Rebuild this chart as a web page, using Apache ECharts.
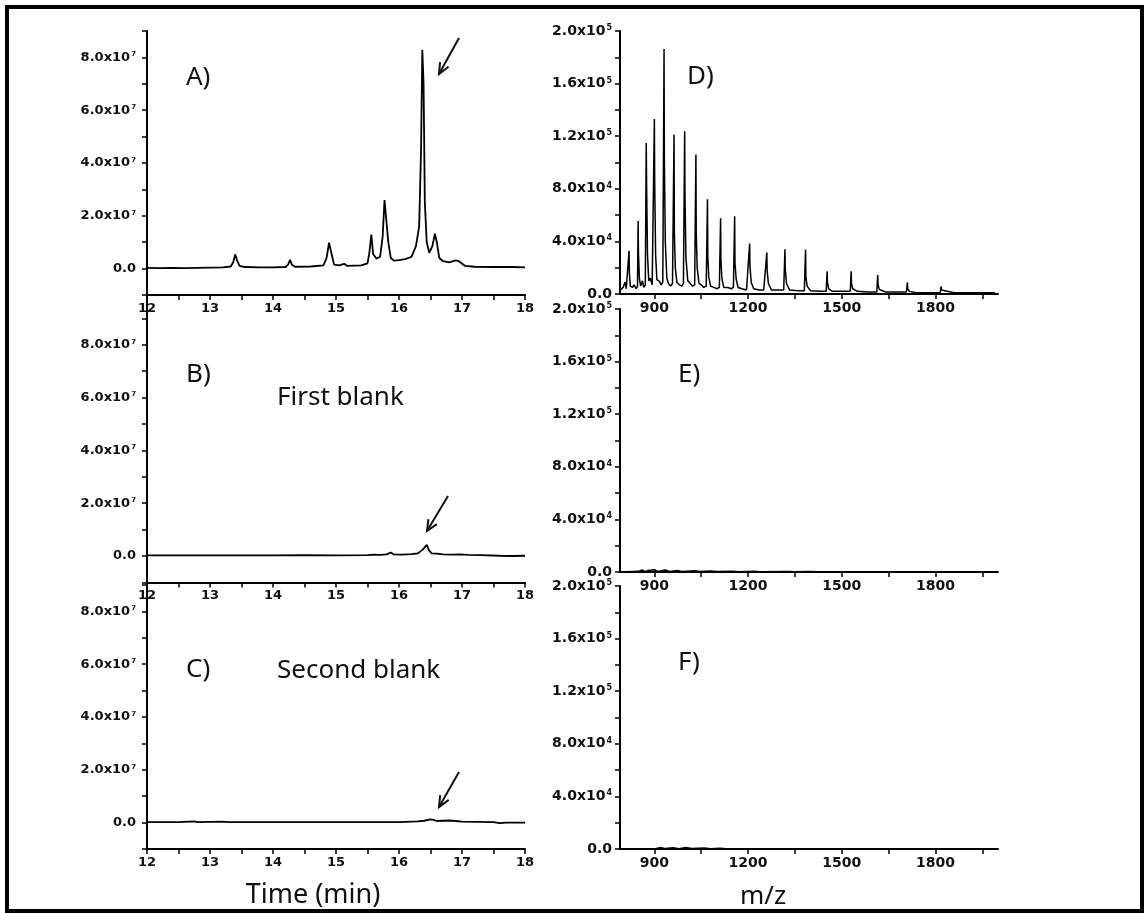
<!DOCTYPE html>
<html>
<head>
<meta charset="utf-8">
<script src="https://cdn.jsdelivr.net/npm/echarts@6/dist/echarts.min.js"></script>
<style>
  html, body { margin: 0; padding: 0; background: #fff; }
  #chart { width: 1147px; height: 913px; }
</style>
</head>
<body>
<div id="chart"></div>
<script>
// chromatograms, intensity in units of 1e7
const aTime = [12.00, 12.20, 12.40, 12.60, 12.80, 13.00, 13.20, 13.33, 13.37, 13.40, 13.43, 13.47, 13.55, 13.80, 14.00, 14.20, 14.24, 14.27, 14.30, 14.35, 14.60, 14.80, 14.85, 14.89, 14.93, 14.97, 15.05, 15.13, 15.18, 15.40, 15.50, 15.53, 15.56, 15.59, 15.64, 15.70, 15.74, 15.77, 15.80, 15.83, 15.87, 15.92, 16.00, 16.10, 16.20, 16.27, 16.32, 16.35, 16.37, 16.39, 16.41, 16.44, 16.48, 16.53, 16.57, 16.60, 16.64, 16.70, 16.80, 16.90, 16.95, 17.05, 17.20, 17.50, 17.80, 18.00]
const aInt = [0.03, 0.02, 0.03, 0.02, 0.03, 0.04, 0.05, 0.08, 0.25, 0.54, 0.30, 0.10, 0.06, 0.05, 0.05, 0.06, 0.15, 0.33, 0.15, 0.07, 0.08, 0.12, 0.40, 0.98, 0.55, 0.15, 0.12, 0.18, 0.10, 0.12, 0.20, 0.60, 1.29, 0.55, 0.38, 0.45, 1.20, 2.60, 2.66, 1.00, 0.40, 0.30, 0.32, 0.36, 0.45, 0.86, 1.60, 4.50, 8.29, 7.00, 2.50, 1.00, 0.60, 0.85, 1.32, 1.00, 0.40, 0.28, 0.24, 0.31, 0.28, 0.10, 0.07, 0.06, 0.06, 0.05]

const bTime = [12.0, 13.0, 14.0, 14.5, 15.0, 15.5, 15.6, 15.7, 15.8, 15.87, 15.92, 16.05, 16.2, 16.3, 16.38, 16.44, 16.48, 16.52, 16.6, 16.7, 16.85, 16.95, 17.1, 17.3, 17.6, 17.8, 18.0]
const bInt = [0.02, 0.02, 0.02, 0.03, 0.02, 0.03, 0.05, 0.04, 0.06, 0.13, 0.06, 0.05, 0.07, 0.10, 0.25, 0.42, 0.20, 0.10, 0.09, 0.06, 0.05, 0.06, 0.04, 0.03, 0.01, 0.00, 0.01]

const cTime = [12.0, 12.5, 12.75, 12.8, 13.2, 13.3, 14.0, 15.0, 16.0, 16.2, 16.3, 16.4, 16.5, 16.55, 16.6, 16.7, 16.8, 16.9, 17.0, 17.5, 17.6, 17.7, 18.0]
const cInt = [0.02, 0.02, 0.05, 0.02, 0.04, 0.02, 0.02, 0.02, 0.02, 0.04, 0.05, 0.07, 0.12, 0.10, 0.06, 0.07, 0.08, 0.06, 0.04, 0.02, -0.02, 0.00, 0.00]

// mass spectra, intensity in units of 1e5
const dMz = [790, 800, 806, 810, 816, 819, 820, 823, 830, 835, 842, 846, 848, 849, 852,
  856, 862, 866, 871, 874, 875, 878, 882, 887, 893, 897, 900, 901, 904,
  908, 915, 922, 927, 931, 932, 935, 940, 945, 952, 958, 963, 964, 967,
  972, 980, 988, 993, 997, 998, 1001, 1007, 1015, 1022, 1029, 1033, 1034, 1037,
  1043, 1050, 1058, 1066, 1070, 1071, 1074, 1080, 1090, 1100, 1108, 1112, 1113, 1116,
  1122, 1135, 1146, 1153, 1157, 1158, 1162, 1168, 1180, 1195, 1201, 1205, 1206, 1210,
  1218, 1235, 1250, 1256, 1260, 1261, 1265, 1275, 1295, 1314, 1318, 1319, 1323,
  1333, 1360, 1380, 1384, 1385, 1389, 1400, 1430, 1450, 1453, 1454, 1458,
  1470, 1500, 1527, 1530, 1531, 1535, 1550, 1580, 1612, 1615, 1616, 1620,
  1640, 1680, 1707, 1710, 1711, 1716, 1740, 1780, 1815, 1818, 1819, 1824, 1860, 1900, 1950, 1990]
const dInt = [0.03, 0.05, 0.09, 0.04, 0.05, 0.328, 0.16, 0.06, 0.05, 0.07, 0.04, 0.06, 0.555, 0.32, 0.12,
  0.06, 0.10, 0.05, 0.07, 1.149, 0.86, 0.30, 0.10, 0.12, 0.07, 0.08, 1.331, 0.86, 0.30,
  0.11, 0.10, 0.07, 0.09, 1.864, 1.02, 0.40, 0.12, 0.08, 0.06, 0.08, 1.212, 0.47, 0.20,
  0.09, 0.07, 0.06, 0.08, 1.237, 0.75, 0.28, 0.10, 0.08, 0.06, 0.07, 1.061, 0.47, 0.20,
  0.08, 0.07, 0.05, 0.06, 0.72, 0.29, 0.13, 0.06, 0.05, 0.04, 0.05, 0.576, 0.27, 0.12,
  0.05, 0.05, 0.04, 0.05, 0.591, 0.24, 0.11, 0.05, 0.04, 0.03, 0.04, 0.384, 0.21, 0.09,
  0.04, 0.03, 0.03, 0.03, 0.316, 0.18, 0.08, 0.03, 0.03, 0.03, 0.341, 0.19, 0.08,
  0.03, 0.025, 0.025, 0.336, 0.13, 0.06, 0.025, 0.02, 0.02, 0.172, 0.09, 0.04,
  0.02, 0.02, 0.02, 0.172, 0.08, 0.04, 0.02, 0.015, 0.015, 0.144, 0.07, 0.035,
  0.015, 0.015, 0.015, 0.088, 0.04, 0.02, 0.01, 0.01, 0.01, 0.058, 0.03, 0.015, 0.01, 0.01, 0.01, 0.01]

const eMz = [790, 850, 860, 870, 880, 900, 910, 935, 950, 975, 990, 1030, 1045, 1080, 1100, 1150, 1170, 1220, 1240, 1330, 1345, 1400, 1420, 1500, 2000]
const eInt = [0, 0.005, 0.015, 0.003, 0.012, 0.018, 0.004, 0.015, 0.003, 0.012, 0.003, 0.010, 0.003, 0.008, 0.003, 0.005, 0.002, 0.006, 0.002, 0.004, 0.001, 0.004, 0.001, 0, 0]

const fMz = [790, 900, 920, 935, 960, 980, 1000, 1020, 1060, 1080, 1110, 1130, 1200, 2000]
const fInt = [0, 0, 0.012, 0.003, 0.010, 0.002, 0.012, 0.003, 0.008, 0.002, 0.006, 0.001, 0, 0]

// tick values
const timeLabels = [12, 13, 14, 15, 16, 17, 18]
const timeTicks = [12, 12.5, 13, 13.5, 14, 14.5, 15, 15.5, 16, 16.5, 17, 17.5, 18]
const ticLabels = [0, 2e7, 4e7, 6e7, 8e7]
const ticTicks = [-1e7, 0, 1e7, 2e7, 3e7, 4e7, 5e7, 6e7, 7e7, 8e7, 9e7]
const mzLabels = [900, 1200, 1500, 1800]
const mzTicks = [900, 1050, 1200, 1350, 1500, 1650, 1800, 1950]
const msLabels = [0, 4e4, 8e4, 1.2e5, 1.6e5, 2.0e5]
const msTicks = [0, 2e4, 4e4, 6e4, 8e4, 1e5, 1.2e5, 1.4e5, 1.6e5, 1.8e5, 2.0e5]

const TIC_UNIT = 1e7
const MS_UNIT = 1e5

const LABEL_FONT = 'DejaVu Sans'
const TEXT_FONT = 'Noto Sans'

const sci = (v) => {
  if (Math.abs(v) < 1e-9) return '{m|0.0}'
  const exp = Math.floor(Math.log10(Math.abs(v)) + 1e-9)
  const mant = v / Math.pow(10, exp)
  return '{m|' + mant.toFixed(1) + 'x10}{e|' + exp + '}'
}

const yAxisCfg = (gi, min, max, labels, ticks, fs, margin) => ({
  gridIndex: gi,
  type: 'value',
  min: min,
  max: max,
  splitLine: { show: false },
  axisLine: { show: true, onZero: false, lineStyle: { color: '#000', width: 2 } },
  axisTick: { show: true, inside: false, length: 5, customValues: ticks, lineStyle: { color: '#000', width: 1.5 } },
  axisLabel: {
    show: true,
    customValues: labels,
    margin: margin,
    formatter: sci,
    rich: {
      m: { fontFamily: LABEL_FONT, fontWeight: 'bold', fontSize: fs, color: '#111', lineHeight: fs, verticalAlign: 'bottom' },
      e: { fontFamily: LABEL_FONT, fontWeight: 'bold', fontSize: Math.round(fs * 0.55), color: '#111', lineHeight: fs, verticalAlign: 'top', padding: [0, 0, 0, 1] }
    }
  }
})

const xAxisCfg = (gi, min, max, labels, ticks, fs) => ({
  gridIndex: gi,
  type: 'value',
  min: min,
  max: max,
  splitLine: { show: false },
  axisLine: { show: true, onZero: false, lineStyle: { color: '#000', width: 2 } },
  axisTick: { show: true, inside: false, length: 5, customValues: ticks, lineStyle: { color: '#000', width: 1.5 } },
  axisLabel: {
    show: true,
    customValues: labels,
    margin: 7,
    formatter: (v) => String(v),
    fontFamily: LABEL_FONT,
    fontWeight: 'bold',
    fontSize: fs,
    color: '#111'
  }
})

const pairs = (xs, ys, unit) => xs.map((x, i) => [x, ys[i] * unit])

const lineSeries = (gi, data, width) => ({
  type: 'line',
  xAxisIndex: gi,
  yAxisIndex: gi,
  data: data,
  showSymbol: false,
  symbol: 'none',
  animation: false,
  lineStyle: { color: '#000', width: width }
})

// small arrow annotation: line with open head at (x2, y2)
const arrow = (x1, y1, x2, y2) => {
  const ang = Math.atan2(y1 - y2, x1 - x2)
  const len = 12
  const w1 = [x2 + len * Math.cos(ang + 0.42), y2 + len * Math.sin(ang + 0.42)]
  const w2 = [x2 + len * Math.cos(ang - 0.42), y2 + len * Math.sin(ang - 0.42)]
  const st = { stroke: '#111', lineWidth: 2, fill: null }
  return [
    { type: 'line', shape: { x1: x1, y1: y1, x2: x2, y2: y2 }, style: st },
    { type: 'polyline', shape: { points: [w1, [x2, y2], w2] }, style: st }
  ]
}

const text = (t, x, y, size, align) => ({
  type: 'text',
  x: x,
  y: y,
  style: {
    text: t,
    fontFamily: TEXT_FONT,
    fontSize: size,
    fill: '#111',
    textAlign: align || 'left',
    textVerticalAlign: 'middle'
  }
})

const chart = echarts.init(document.getElementById('chart'), null, { renderer: 'canvas' })

const option = {
  backgroundColor: '#fff',
  animation: false,
  grid: [
    { left: 147, top: 31, width: 378, height: 264 },
    { left: 147, top: 292, width: 378, height: 290.4 },
    { left: 147, top: 585, width: 378, height: 264 },
    { left: 620, top: 31, width: 378, height: 263 },
    { left: 620, top: 309, width: 378, height: 263 },
    { left: 620, top: 586, width: 378, height: 263 }
  ],
  xAxis: [
    xAxisCfg(0, 12, 18, timeLabels, timeTicks, 13),
    xAxisCfg(1, 12, 18, timeLabels, timeTicks, 13),
    xAxisCfg(2, 12, 18, timeLabels, timeTicks, 13),
    xAxisCfg(3, 790, 2000, mzLabels, mzTicks, 14),
    xAxisCfg(4, 790, 2000, mzLabels, mzTicks, 14),
    xAxisCfg(5, 790, 2000, mzLabels, mzTicks, 14)
  ],
  yAxis: [
    yAxisCfg(0, -1e7, 9e7, ticLabels, ticTicks, 13, 11),
    yAxisCfg(1, -1e7, 1e8, ticLabels, ticTicks, 13, 11),
    yAxisCfg(2, -1e7, 9e7, ticLabels, ticTicks, 13, 11),
    yAxisCfg(3, 0, 2e5, msLabels, msTicks, 14, 8),
    yAxisCfg(4, 0, 2e5, msLabels, msTicks, 14, 8),
    yAxisCfg(5, 0, 2e5, msLabels, msTicks, 14, 8)
  ],
  series: [
    lineSeries(0, pairs(aTime, aInt, TIC_UNIT), 1.8),
    lineSeries(1, pairs(bTime, bInt, TIC_UNIT), 1.8),
    lineSeries(2, pairs(cTime, cInt, TIC_UNIT), 1.8),
    lineSeries(3, pairs(dMz, dInt, MS_UNIT), 1.5),
    lineSeries(4, pairs(eMz, eInt, MS_UNIT), 1.5),
    lineSeries(5, pairs(fMz, fInt, MS_UNIT), 1.5)
  ],
  graphic: [
    { type: 'rect', shape: { x: 7, y: 7, width: 1135, height: 904 }, style: { stroke: '#000', lineWidth: 4, fill: null } },
    text('A)', 186, 78, 26),
    text('B)', 186, 375, 26),
    text('First blank', 277, 398, 26),
    text('C)', 186, 670, 26),
    text('Second blank', 277, 671, 26),
    text('Time (min)', 313, 895, 27, 'center'),
    text('D)', 687, 77, 26),
    text('E)', 678, 375, 26),
    text('F)', 678, 663, 26),
    text('m/z', 763, 897, 26, 'center'),
    ...arrow(459, 38, 439, 74),
    ...arrow(448, 496, 427, 531),
    ...arrow(459, 772, 439, 807)
  ]
}

chart.setOption(option)
window.addEventListener('resize', () => chart.resize())
</script>
</body>
</html>
